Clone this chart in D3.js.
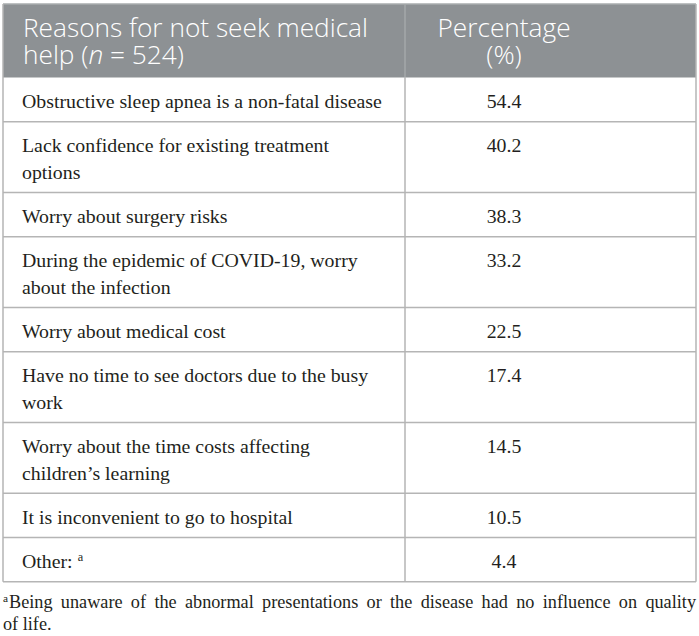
<!DOCTYPE html>
<html>
<head>
<meta charset="utf-8">
<script src="https://cdn.jsdelivr.net/npm/d3@7"></script>
<style>
  html, body { margin: 0; padding: 0; background: #ffffff; }
  svg { display: block; }
</style>
</head>
<body>
<svg id="chart" width="699" height="636"></svg>
<script>
// ---- data ----
const headerReason = ["Reasons for not seek medical", "help (", "n", " = 524)"];
const headerPercent = ["Percentage", "(%)"];
const reasons = [
  ["Obstructive sleep apnea is a non-fatal disease"],
  ["Lack confidence for existing treatment", "options"],
  ["Worry about surgery risks"],
  ["During the epidemic of COVID-19, worry", "about the infection"],
  ["Worry about medical cost"],
  ["Have no time to see doctors due to the busy", "work"],
  ["Worry about the time costs affecting", "children\u2019s learning"],
  ["It is inconvenient to go to hospital"],
  ["Other:"]
];
const reasonMarks = ["", "", "", "", "", "", "", "", "a"];
const percentages = [54.4, 40.2, 38.3, 33.2, 22.5, 17.4, 14.5, 10.5, 4.4];
const footnoteMark = "a";
const footnoteLines = [
  "Being unaware of the abnormal presentations or the disease had no influence on quality",
  "of life."
];

// ---- layout ----
const svg = d3.select("#chart");
const left = 3, right = 696, divider = 405;
const headTop = 4, headBottom = 77.5;
const lineH = 26.6, padH = 17.6;
const serif = "'Liberation Serif', 'Times New Roman', serif";
const sans = "'Open Sans', 'Noto Sans', sans-serif";
const gridColor = "#b5b5b5";
const textColor = "#231f20";

// cumulative row tops from line counts, via a linear scale on line units
const units = reasons.map(r => r.length);
const cum = [0];
units.forEach((u, i) => cum.push(cum[i] + u));
const rowsY = d3.scaleLinear().domain([0, 1]).range([0, lineH]);
const rowTop = i => headBottom + rowsY(cum[i]) + padH * i;
const rowBottom = i => rowTop(i + 1);
const tableBottom = rowTop(reasons.length);

// helper to fit font size to a target width
function fitSize(text, family, weight, target, base) {
  const t = svg.append("text").attr("font-family", family).attr("font-weight", weight)
    .attr("font-size", base).text(text);
  const w = t.node().getComputedTextLength();
  t.remove();
  return base * target / w;
}

const bodySize = fitSize(reasons[0][0], serif, 400, 360, 18);
const headSize = fitSize(headerReason[0], sans, 300, 345, 22);

// header background
svg.append("rect").attr("x", left).attr("y", headTop)
  .attr("width", right - left).attr("height", headBottom - headTop)
  .attr("fill", "#8d9194");
svg.append("line").attr("x1", left).attr("x2", right).attr("y1", headTop).attr("y2", headTop)
  .attr("stroke", "#a9acae").attr("stroke-width", 1.5);
svg.append("line").attr("x1", divider).attr("x2", divider).attr("y1", headTop).attr("y2", headBottom)
  .attr("stroke", "#a4a8aa").attr("stroke-width", 1.5);

// header text
const hg = svg.append("g").attr("font-family", sans).attr("font-weight", 300)
  .attr("font-size", headSize).attr("fill", "#ffffff");
hg.append("text").attr("x", 23).attr("y", 37).text(headerReason[0]);
const h2 = hg.append("text").attr("x", 23).attr("y", 64);
h2.append("tspan").text(headerReason[1]);
h2.append("tspan").attr("font-style", "italic").text(headerReason[2]);
h2.append("tspan").text(headerReason[3]);
const pctX = 504;
hg.append("text").attr("x", pctX).attr("y", 37).attr("text-anchor", "middle").text(headerPercent[0]);
hg.append("text").attr("x", pctX).attr("y", 64).attr("text-anchor", "middle").text(headerPercent[1]);

// body rows
const rows = svg.append("g").selectAll("g.row").data(reasons).join("g").attr("class", "row");
rows.each(function(lines, i) {
  const g = d3.select(this);
  const t = g.append("text").attr("font-family", serif).attr("font-size", bodySize)
    .attr("fill", textColor);
  lines.forEach((ln, j) => {
    t.append("tspan").attr("x", 22).attr("y", rowTop(i) + 30.5 + j * lineH).text(ln);
  });
  if (reasonMarks[i]) {
    t.append("tspan").attr("dx", 5).attr("dy", -7).attr("font-size", bodySize * 0.62).text(reasonMarks[i]);
  }
  g.append("text").attr("font-family", serif).attr("font-size", bodySize).attr("fill", textColor)
    .attr("x", pctX).attr("y", rowTop(i) + 30.5).attr("text-anchor", "middle")
    .text(d3.format(".1f")(percentages[i]));
});

// grid lines
const grid = svg.append("g").attr("stroke", gridColor).attr("stroke-width", 1.5);
reasons.forEach((r, i) => {
  grid.append("line").attr("x1", left).attr("x2", right)
    .attr("y1", rowBottom(i)).attr("y2", rowBottom(i));
});
grid.append("line").attr("x1", divider).attr("x2", divider).attr("y1", headBottom).attr("y2", tableBottom);
grid.append("line").attr("x1", left).attr("x2", left).attr("y1", headTop).attr("y2", tableBottom);
grid.append("line").attr("x1", right).attr("x2", right).attr("y1", headTop).attr("y2", tableBottom);

// footnote
const footSize = bodySize * 0.92;
const fg = svg.append("g").attr("font-family", serif).attr("fill", textColor);
fg.append("text").attr("x", 3).attr("y", tableBottom + 20).attr("font-size", footSize * 0.62).text(footnoteMark);
const f1 = fg.append("text").attr("x", 9).attr("y", tableBottom + 26.5).attr("font-size", footSize)
  .text(footnoteLines[0]);
// justify first line to the right edge via word spacing
const natural = f1.node().getComputedTextLength();
const spaces = (footnoteLines[0].match(/ /g) || []).length;
f1.attr("word-spacing", (right - 9 - natural) / spaces);
fg.append("text").attr("x", 3).attr("y", tableBottom + 48.5).attr("font-size", footSize)
  .text(footnoteLines[1]);
</script>
</body>
</html>
